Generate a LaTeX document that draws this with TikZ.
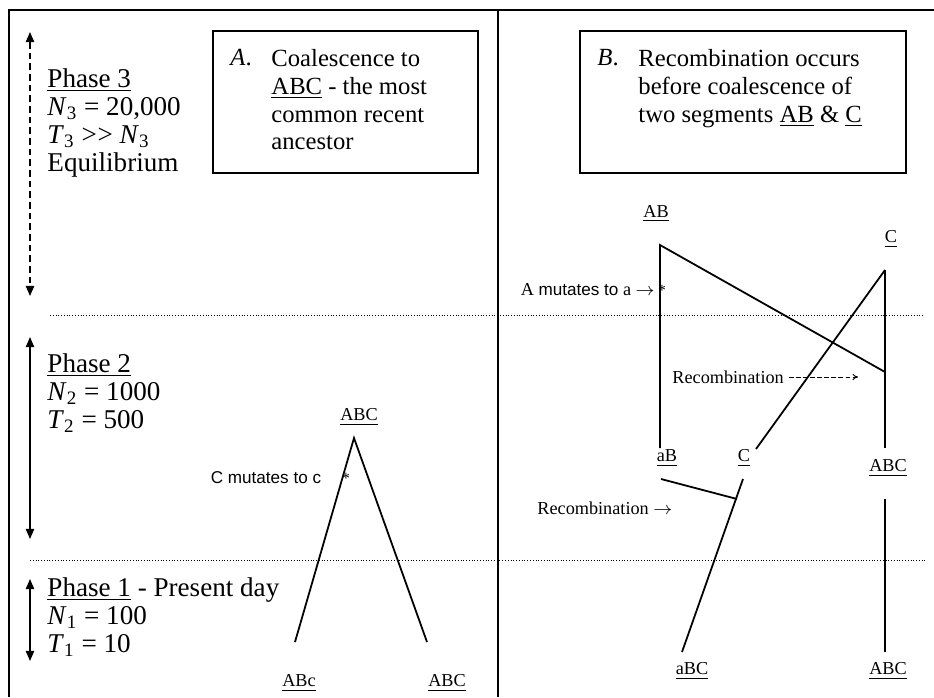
\documentclass[tikz,border=0pt]{standalone}
\usepackage{fontspec}
\setmainfont{Liberation Serif}
\newfontfamily\arialfont{Liberation Sans}
\usetikzlibrary{arrows.meta}
\tikzset{
  phase/.style={anchor=north west,align=left,inner sep=0pt,font=\fontsize{12.2}{12.6}\selectfont},
  captext/.style={anchor=north west,align=left,inner sep=0pt,font=\fontsize{11.1}{12.5}\selectfont},
  seg/.style={inner sep=0pt,font=\fontsize{8.2}{9}\selectfont},
  sansnote/.style={inner sep=0pt,font=\fontsize{7.7}{9}\arialfont},
  astx/.style={inner sep=0pt,font=\fontsize{7}{8}\selectfont},
  frame/.style={line width=0.9pt},
  branch/.style={line width=0.8pt},
  span/.style={{Triangle[length=4.6pt,width=3.8pt]}-{Triangle[length=4.6pt,width=3.8pt]},line width=0.6pt},
  phaseline/.style={line width=0.45pt,dash pattern=on 0.45pt off 0.8pt},
  recflow/.style={-{To[length=2.5pt,width=3pt]},line width=0.45pt}}

\begin{document}
\begin{tikzpicture}[x=0.45pt,y=-0.45pt]
  \useasboundingbox (0,0) rectangle (934,697);
  % frame and phase boundaries
  \draw[frame] (8,10) -- (934,10);
  \draw[frame] (9,10) -- (9,697);
  \draw[frame] (498,10) -- (498,697);
  \draw[phaseline] (50,315) -- (923,315);
  \draw[phaseline] (30,560) -- (925,560);
  % phase spans
  \coordinate (s3a) at (30,32); \coordinate (s3b) at (30,296);
  \coordinate (s2a) at (30,337); \coordinate (s2b) at (30,539);
  \coordinate (s1a) at (30,579); \coordinate (s1b) at (30,661);
  \draw[span,dash pattern=on 3pt off 1.8pt] (s3a) -- (s3b);
  \draw[span] (s2a) -- (s2b);
  \draw[span] (s1a) -- (s1b);
  \node[phase] (ph3) at (47,68) {\underline{Phase 3}\\\textit{N}\textsubscript{3} = 20,000\\\textit{T}\textsubscript{3} >\kern0.4pt> \textit{N}\textsubscript{3}\\Equilibrium};
  \node[phase] (ph2) at (47,353) {\underline{Phase 2}\\\textit{N}\textsubscript{2} = 1000\\\textit{T}\textsubscript{2} = 500};
  \node[phase] (ph1) at (47,577) {\underline{Phase 1} - Present day\\\textit{N}\textsubscript{1} = 100\\\textit{T}\textsubscript{1} = 10};
  % captions
  \draw[frame] (213,31) rectangle (478,173);
  \node[captext] (capA) at (230,49) {\textit{A}.};
  \node[captext] (txtA) at (271,49) {Coalescence to\\\underline{ABC} - the most\\common recent\\ancestor};
  \draw[frame] (580,31) rectangle (906,173);
  \node[captext] (capB) at (597,49) {\textit{B}.};
  \node[captext] (txtB) at (638,49) {Recombination occurs\\before coalescence of\\two segments \underline{AB} \& \underline{C}};
  % tree A
  \coordinate (aroot) at (354,438);
  \coordinate (aleft) at (295,642);
  \coordinate (aright) at (427,642);
  \draw[branch] (aleft) -- (aroot) -- (aright);
  \node[seg] (abcA) at (359,417) {\underline{ABC}};
  \node[seg] (abcl) at (299,683) {\underline{ABc}};
  \node[seg] (abcr) at (447,683) {\underline{ABC}};
  \node[sansnote] (mutC) at (266,478) {C mutates to c};
  \node[astx] (astA) at (346,478) {*};
  % tree B
  \coordinate (abtop) at (660,245); \coordinate (abbot) at (660,448);
  \coordinate (ctop) at (885,270); \coordinate (recpt) at (885,372);
  \coordinate (rbot) at (885,448); \coordinate (cbot) at (756,449);
  \coordinate (ablo) at (661,479); \coordinate (join) at (737,499);
  \coordinate (clo) at (743,479); \coordinate (abcbot) at (682,652);
  \coordinate (rlo) at (885,499); \coordinate (rend) at (885,652);
  \draw[branch] (abbot) -- (abtop) -- (recpt);
  \draw[branch] (ctop) -- (rbot);
  \draw[branch] (ctop) -- (cbot);
  \draw[branch] (ablo) -- (join);
  \draw[branch] (clo) -- (abcbot);
  \draw[branch] (rlo) -- (rend);
  \node[seg] (ab) at (656,214) {\underline{AB}};
  \node[seg] (ctopl) at (891,239) {\underline{C}};
  \node[seg] (ab2) at (667,458) {\underline{aB}};
  \node[seg] (c2) at (744,458) {\underline{C}};
  \node[seg] (abc2) at (888,468) {\underline{ABC}};
  \node[seg] (abc3) at (692,671) {\underline{aBC}};
  \node[seg] (abc4) at (888,671) {\underline{ABC}};
  \node[seg,anchor=east] (mutA) at (655,290) {A {\fontsize{7.7}{9}\arialfont mutates to} a $\rightarrow$};
  \node[astx] (astB) at (662,290) {*};
  \node[seg,anchor=west] (rec1) at (672,377) {Recombination};
  \coordinate (rec1tip) at (858,377);
  \draw[recflow,dash pattern=on 2.2pt off 1pt] ([xshift=2pt]rec1.east) -- (rec1tip);
  \node[seg,anchor=west] (rec2) at (537,508) {Recombination $\rightarrow$};
\end{tikzpicture}
\end{document}
